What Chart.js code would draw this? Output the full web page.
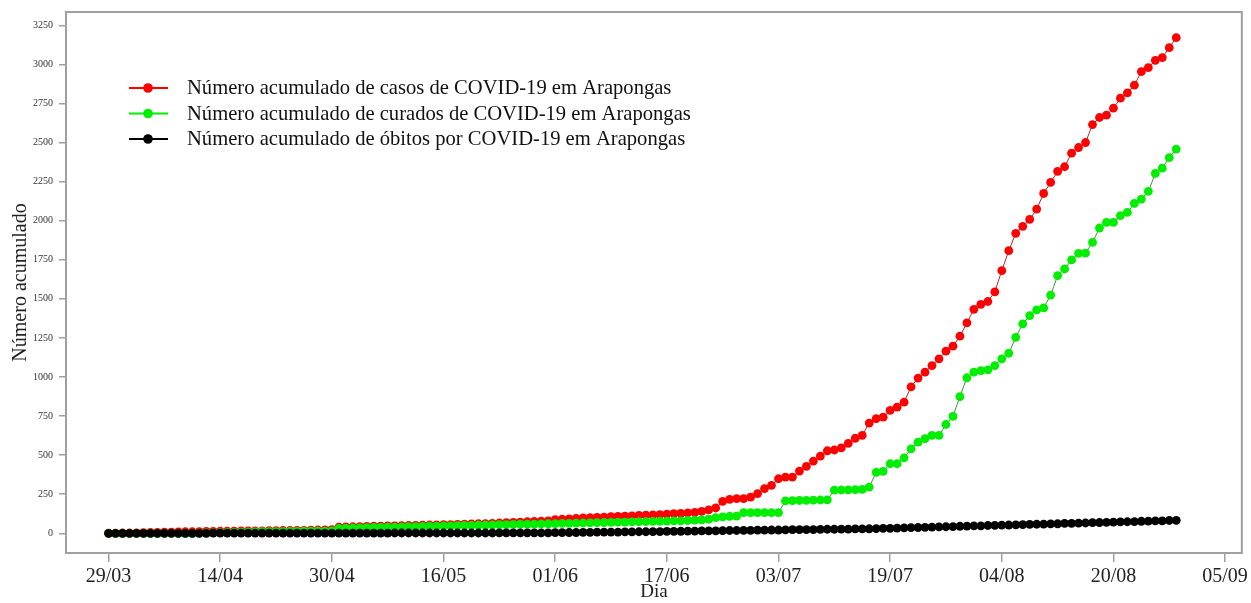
<!DOCTYPE html>
<html><head><meta charset="utf-8">
<script src="https://cdn.jsdelivr.net/npm/chart.js@4/dist/chart.umd.min.js"></script>
<style>html,body{margin:0;padding:0;background:#fff}#c{display:block}</style>
</head><body>
<canvas id="c" width="1251" height="603"></canvas>
<script>
// x axis: day offsets from 29/03 and their labels
const tickDays = [0, 16, 32, 48, 64, 80, 96, 112, 128, 144, 160];
const tickLabels = ['29/03', '14/04', '30/04', '16/05', '01/06', '17/06', '03/07', '19/07', '04/08', '20/08', '05/09'];
const yTickValues = [0, 250, 500, 750, 1000, 1250, 1500, 1750, 2000, 2250, 2500, 2750, 3000, 3250];

// daily cumulative values, 29/03 .. 29/08
const casos = [
  1, 1, 2, 2, 3, 4, 5, 6, 7, 8,
  9, 10, 10, 11, 12, 12, 13, 14, 14, 15,
  15, 16, 16, 17, 17, 18, 18, 19, 19, 20,
  21, 22, 24, 40, 41, 42, 43, 44, 45, 46,
  47, 48, 49, 50, 51, 52, 53, 54, 55, 56,
  57, 58, 60, 61, 62, 64, 66, 68, 70, 72,
  74, 76, 78, 80, 88, 90, 92, 95, 98, 100,
  102, 104, 106, 108, 110, 112, 114, 116, 118, 120,
  123, 126, 128, 130, 134, 140, 150, 162, 204, 217,
  222, 222, 232, 254, 286, 307, 349, 360, 360, 398,
  428, 462, 494, 528, 533, 546, 575, 608, 626, 705,
  733, 743, 786, 807, 839, 937, 993, 1031, 1073, 1116,
  1165, 1197, 1261, 1346, 1433, 1465, 1483, 1545, 1680, 1808,
  1919, 1963, 2008, 2074, 2174, 2245, 2315, 2345, 2432, 2468,
  2500, 2615, 2660, 2675, 2720, 2784, 2818, 2867, 2954, 2979,
  3026, 3043, 3107, 3171
];
const curados = [
  0, 0, 0, 0, 0, 0, 0, 0, 0, 0,
  0, 0, 0, 1, 2, 3, 4, 5, 6, 7,
  8, 9, 10, 10, 11, 11, 12, 12, 13, 13,
  14, 14, 15, 32, 33, 34, 35, 36, 37, 38,
  39, 40, 41, 42, 43, 44, 45, 46, 47, 48,
  49, 50, 51, 52, 53, 54, 55, 56, 57, 58,
  59, 59, 60, 61, 62, 63, 64, 65, 66, 67,
  68, 69, 70, 71, 72, 73, 74, 75, 76, 77,
  78, 79, 80, 82, 84, 86, 90, 100, 105, 109,
  110, 132, 132, 132, 132, 132, 132, 208, 209, 210,
  211, 212, 213, 214, 276, 277, 278, 279, 281, 296,
  390, 396, 445, 445, 483, 540, 583, 605, 626, 626,
  696, 748, 875, 995, 1031, 1041, 1046, 1073, 1116, 1152,
  1254, 1340, 1393, 1429, 1442, 1524, 1648, 1691, 1749, 1791,
  1793, 1861, 1953, 1989, 1989, 2032, 2053, 2110, 2138, 2187,
  2302, 2336, 2404, 2458
];
const obitos = [
  0, 0, 0, 0, 0, 0, 0, 0, 0, 0,
  0, 0, 0, 0, 0, 1, 1, 1, 1, 1,
  1, 1, 1, 1, 1, 1, 1, 1, 1, 1,
  1, 1, 1, 1, 1, 1, 1, 1, 1, 1,
  1, 2, 2, 2, 2, 2, 2, 2, 2, 2,
  2, 2, 2, 2, 2, 2, 3, 3, 3, 3,
  3, 3, 3, 3, 4, 4, 5, 5, 6, 6,
  7, 7, 8, 8, 9, 9, 10, 10, 11, 11,
  12, 12, 13, 14, 14, 15, 16, 16, 17, 18,
  18, 19, 19, 20, 20, 21, 21, 22, 23, 23,
  24, 24, 25, 26, 26, 27, 27, 28, 28, 29,
  30, 31, 32, 33, 35, 36, 37, 38, 40, 41,
  42, 43, 45, 46, 47, 48, 50, 51, 52, 53,
  54, 55, 57, 58, 59, 60, 61, 63, 64, 65,
  66, 68, 69, 70, 71, 73, 74, 75, 77, 78,
  79, 80, 82, 83
];

const seriesLabels = [
  'Número acumulado de casos de COVID-19 em Arapongas',
  'Número acumulado de curados de COVID-19 em Arapongas',
  'Número acumulado de óbitos por COVID-19 em Arapongas'
];
const pointColors = ['#ff0000', '#00ee00', '#000000'];
const lineColors = ['#b02a2a', '#2f9f2f', '#000000'];
const seriesValues = [casos, curados, obitos];

const FONT = '"Liberation Serif", "Times New Roman", serif';
const GRAY = '#a0a0a0';

const frame = {
  id: 'frame',
  beforeDatasetsDraw(chart) {
    const a = chart.chartArea, ctx = chart.ctx;
    ctx.save();
    ctx.strokeStyle = GRAY;
    ctx.lineWidth = 2;
    ctx.strokeRect(a.left, a.top, a.right - a.left, a.bottom - a.top);
    ctx.restore();
  }
};

const insideLegend = {
  id: 'insideLegend',
  afterDraw(chart) {
    const ctx = chart.ctx;
    ctx.save();
    ctx.font = '20.6px ' + FONT;
    ctx.textBaseline = 'middle';
    ctx.textAlign = 'left';
    const rows = [88, 113.5, 139];
    chart.data.datasets.forEach((ds, i) => {
      const y = rows[i];
      ctx.strokeStyle = i === 2 ? '#000' : ds.pointBackgroundColor;
      ctx.lineWidth = 2;
      ctx.beginPath(); ctx.moveTo(129, y); ctx.lineTo(168, y); ctx.stroke();
      ctx.fillStyle = ds.pointBackgroundColor;
      ctx.beginPath(); ctx.arc(148, y, 4.8, 0, Math.PI * 2); ctx.fill();
      ctx.fillStyle = '#111';
      ctx.fillText(ds.label, 187, y + 1);
    });
    ctx.restore();
  }
};

const datasets = seriesValues.map((vals, k) => ({
  label: seriesLabels[k],
  data: vals.map((v, i) => ({ x: i, y: v })),
  borderColor: lineColors[k],
  borderWidth: 1,
  pointBackgroundColor: pointColors[k],
  pointBorderWidth: 0,
  pointRadius: 4.4,
  pointHoverRadius: 4.4,
  order: 3 - k,
  tension: 0,
  clip: false
}));

new Chart(document.getElementById('c'), {
  type: 'line',
  data: { datasets },
  plugins: [frame, insideLegend],
  options: {
    responsive: false,
    animation: false,
    devicePixelRatio: 1,
    layout: { padding: { top: 11, right: 9, left: 0, bottom: 0 } },
    plugins: { legend: { display: false }, tooltip: { enabled: false } },
    scales: {
      x: {
        type: 'linear',
        min: -6.1,
        max: 162.4,
        afterFit(s) { s.height = 50; },
        afterBuildTicks(s) { s.ticks = tickDays.map(v => ({ value: v })); },
        border: { display: false },
        grid: { drawOnChartArea: false, drawTicks: true, tickLength: 9, color: GRAY, lineWidth: 1.5 },
        ticks: {
          autoSkip: false, maxRotation: 0, padding: 3,
          color: '#222', font: { family: FONT, size: 20 },
          callback: (v) => tickLabels[tickDays.indexOf(v)]
        },
        title: { display: true, text: 'Dia', color: '#222', font: { family: FONT, size: 19, lineHeight: 1.0 }, padding: { top: 0, bottom: 1 } }
      },
      y: {
        type: 'linear',
        min: -126,
        max: 3335,
        afterFit(s) { s.width = 66; },
        afterBuildTicks(s) { s.ticks = yTickValues.map(v => ({ value: v })); },
        border: { display: false },
        grid: { drawOnChartArea: false, drawTicks: true, tickLength: 7, color: GRAY, lineWidth: 1.5 },
        ticks: { padding: 6, color: '#333', font: { family: FONT, size: 10 }, callback: (v) => String(v) },
        title: { display: true, text: 'Número acumulado', color: '#222', font: { family: FONT, size: 20 }, padding: { top: 9, bottom: 0 } }
      }
    }
  }
});
</script>
</body></html>
